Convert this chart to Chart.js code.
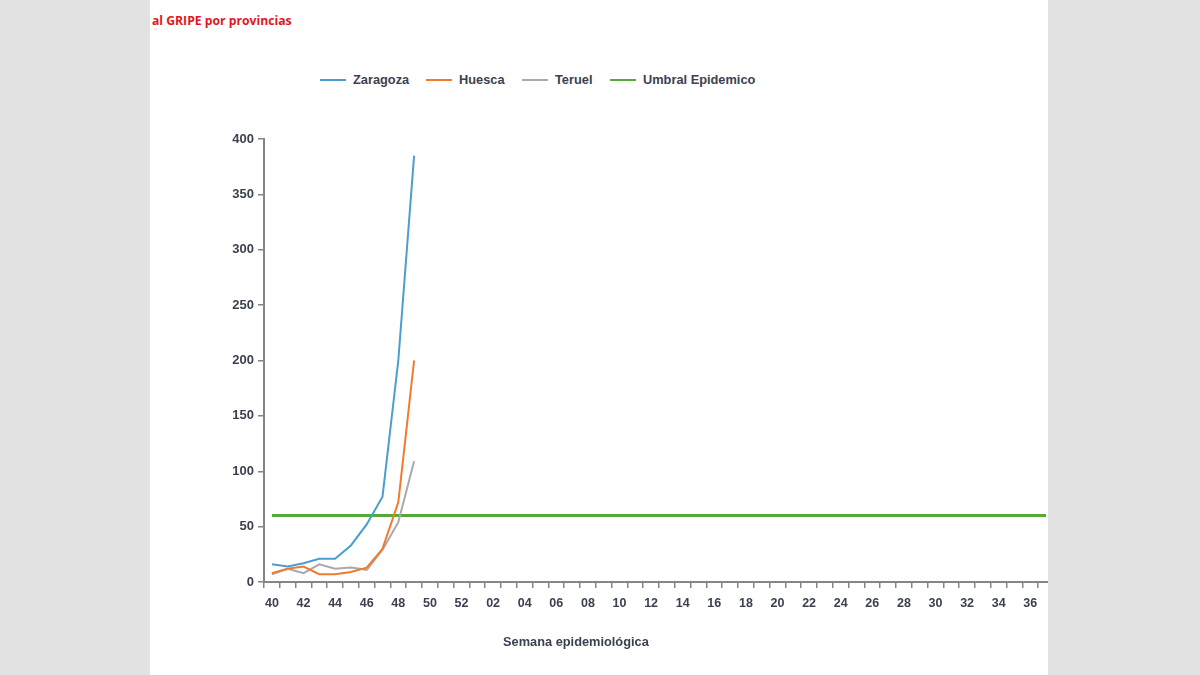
<!DOCTYPE html>
<html>
<head>
  <script src="https://cdn.jsdelivr.net/npm/chart.js"></script>
  <style>
    body { margin: 0; width: 1200px; height: 675px; background: #e2e2e2; overflow: hidden; font-family: "Liberation Sans", Arial, sans-serif; }
    #panel { position: absolute; left: 150px; top: 0; width: 898px; height: 675px; background: #fff; overflow: hidden; }
    #title { position: absolute; left: 2px; top: 12px; color: #e3161d; font: bold 12.2px "Open Sans", sans-serif; }
    .leg { position: absolute; top: 72px; font: bold 12.8px "Liberation Sans", Arial, sans-serif; color: #3b4150; white-space: nowrap; }
    .leg i { display: inline-block; width: 26px; height: 2px; vertical-align: middle; margin-right: 7px; position: relative; top: -1px; }
    #xtitle { position: absolute; left: 353px; top: 634px; font: bold 12.8px "Liberation Sans", Arial, sans-serif; color: #3b4150; }
    #wrap { position: absolute; left: 0; top: 0; width: 920px; height: 675px; }
  </style>
</head>
<body>
  <div id="panel">
    <div id="title">al GRIPE por provincias</div>
    <div id="legend"></div>
    <div id="wrap"><canvas id="lineChart" width="920" height="675"></canvas></div>
    <div id="xtitle">Semana epidemiológica</div>
  </div>
  <script>
    // semanas 40..52 y 01..37
    const weeks = ['40','41','42','43','44','45','46','47','48','49','50','51','52',
      '01','02','03','04','05','06','07','08','09','10','11','12','13','14','15','16','17','18',
      '19','20','21','22','23','24','25','26','27','28','29','30','31','32','33','34','35','36','37'];
    const zaragoza = [16, 14, 17, 21, 21, 33, 52, 77, 200, 385];
    const huesca = [8, 12, 14, 7, 7, 9, 13, 30, 72, 200];
    const teruel = [7, 12, 8, 16, 12, 13, 11, 29, 54, 109];
    const umbralValue = 60;
    const yTicks = [0, 50, 100, 150, 200, 250, 300, 350, 400];

    const series = [
      { label: 'Zaragoza', data: zaragoza, color: '#4a9ed0', width: 2 },
      { label: 'Huesca', data: huesca, color: '#f07b2e', width: 2 },
      { label: 'Teruel', data: teruel, color: '#a9a9ad', width: 2 },
      { label: 'Umbral Epidemico', data: weeks.map(() => umbralValue), color: '#55a83a', width: 3 }
    ];

    // leyenda en html, posiciones relativas al panel
    const legX = [170, 276, 372, 460];
    const legend = document.getElementById('legend');
    series.forEach((s, i) => {
      const d = document.createElement('div');
      d.className = 'leg';
      d.style.left = legX[i] + 'px';
      d.innerHTML = '<i style="background:' + s.color + '"></i>' + s.label;
      legend.appendChild(d);
    });

    const axisColor = '#858585';
    const tickFont = { family: '"Liberation Sans", Arial, sans-serif', size: 12.5, weight: 'bold' };

    const ctx = document.getElementById('lineChart').getContext('2d');
    new Chart(ctx, {
      type: 'line',
      data: {
        labels: weeks,
        datasets: series.map(s => ({
          label: s.label,
          data: s.data,
          borderColor: s.color,
          backgroundColor: s.color,
          borderWidth: s.width,
          pointRadius: 0,
          tension: 0,
          fill: false
        }))
      },
      options: {
        responsive: false,
        animation: false,
        layout: { padding: { top: 139, left: 0, right: 16, bottom: 28 } },
        plugins: {
          legend: { display: false },
          tooltip: { enabled: false }
        },
        scales: {
          x: {
            offset: true,
            border: { display: true, color: axisColor, width: 2 },
            grid: { display: true, drawOnChartArea: false, drawTicks: true, tickLength: 6, color: axisColor, lineWidth: 1.5, offset: true },
            ticks: {
              autoSkip: false,
              maxRotation: 0,
              padding: 8,
              color: '#3b4150',
              font: tickFont,
              callback: function (v, i) { return i % 2 === 0 ? weeks[i] : ''; }
            },
            afterFit: function (s) { s.height = 65; }
          },
          y: {
            min: 0,
            max: 400,
            afterBuildTicks: function (s) { s.ticks = yTicks.map(v => ({ value: v })); },
            border: { display: true, color: axisColor, width: 2 },
            grid: { display: true, drawOnChartArea: false, drawTicks: true, tickLength: 6, color: axisColor, lineWidth: 1.5 },
            ticks: { padding: 4, color: '#3b4150', font: { family: '"Liberation Sans", Arial, sans-serif', size: 13, weight: 'bold' } },
            afterFit: function (s) { s.width = 114; }
          }
        }
      }
    });
  </script>
</body>
</html>
